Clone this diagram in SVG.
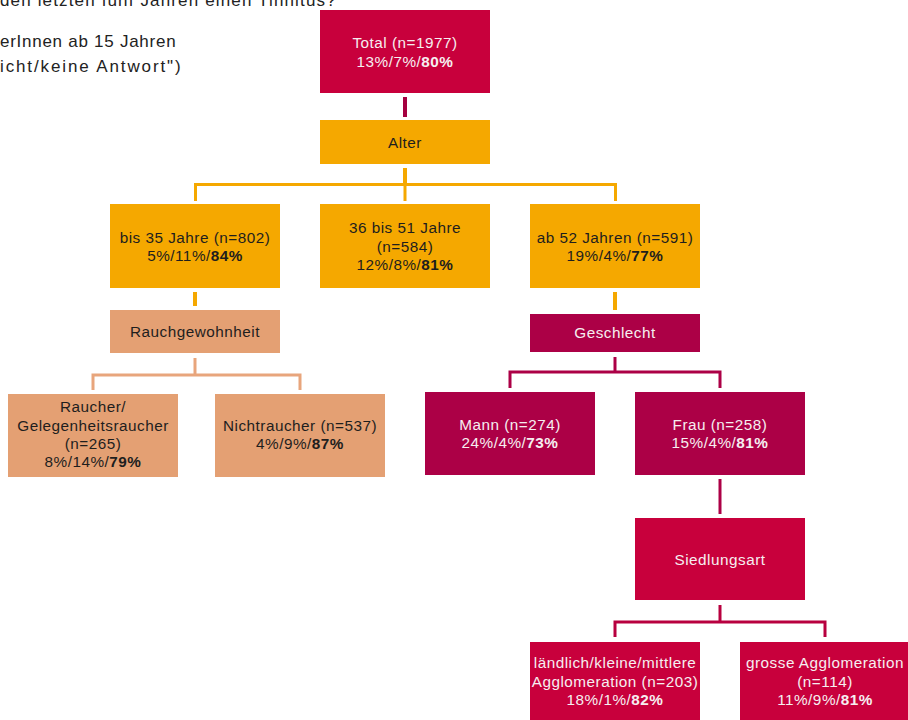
<svg xmlns="http://www.w3.org/2000/svg" width="908" height="720" viewBox="0 0 908 720">
<style>
text{font-family:"Liberation Sans",Arial,sans-serif;font-size:15.3px;letter-spacing:0.5px;text-anchor:middle}
.hdr{font-size:17px;text-anchor:start;fill:#222;letter-spacing:0.4px}
.dk{fill:#1e1e1e}
.lt{fill:#f6eef0}
.b{font-weight:bold}
.crim{fill:#C8003C}
.mag{fill:#AC0046}
.org{fill:#F5A800}
.sal{fill:#E4A073}
.c-org{stroke:#F5A800;stroke-width:3;fill:none}
.c-sal{stroke:#E8A57C;stroke-width:3;fill:none}
.c-mag{stroke:#AC0046;stroke-width:3;fill:none}
.c-crim{stroke:#B8003F;stroke-width:3;fill:none}
</style>
<rect width="908" height="720" fill="#ffffff"/>
<g id="header">
<text class="hdr" x="0" y="6" textLength="336" lengthAdjust="spacing">den letzten fünf Jahren einen Tinnitus?</text>
<text class="hdr" x="0" y="47" textLength="176" lengthAdjust="spacing">erInnen ab 15 Jahren</text>
<text class="hdr" x="0" y="72" textLength="181" lengthAdjust="spacing">icht/keine Antwort")</text>
</g>
<g id="connectors">
<line x1="405" y1="97" x2="405" y2="117" stroke="#A50040" stroke-width="4"/>
<line x1="405" y1="168" x2="405" y2="185" stroke="#F5A800" stroke-width="4"/>
<path class="c-org" d="M195.5 201V184.5H615.5V201M405 184.5V201"/>
<line x1="195" y1="292" x2="195" y2="306" stroke="#F5A800" stroke-width="4"/>
<line x1="615" y1="292" x2="615" y2="310" stroke="#F5A800" stroke-width="4"/>
<line x1="195" y1="358" x2="195" y2="376" class="c-sal" stroke-width="4"/>
<path class="c-sal" d="M93 390V375H300V390"/>
<line x1="615" y1="357" x2="615" y2="373" class="c-mag" stroke-width="4"/>
<path class="c-mag" d="M510 388V372H720V388"/>
<line x1="720" y1="479" x2="720" y2="514" class="c-mag" stroke-width="4"/>
<line x1="720" y1="605" x2="720" y2="623" class="c-crim" stroke-width="4"/>
<path class="c-crim" d="M615 637V622H825V637"/>
</g>
<g id="total">
<rect class="crim" x="320" y="10" width="170" height="83"/>
<text class="lt" x="405" y="48">Total (n=1977)</text>
<text class="lt" x="405" y="67">13%/7%/<tspan class="b">80%</tspan></text>
</g>
<g id="alter">
<rect class="org" x="320" y="120" width="170" height="44"/>
<text class="dk" x="405" y="148">Alter</text>
</g>
<g id="bis35">
<rect class="org" x="110" y="204" width="170" height="84"/>
<text class="dk" x="195" y="243">bis 35 Jahre (n=802)</text>
<text class="dk" x="195" y="261">5%/11%/<tspan class="b">84%</tspan></text>
</g>
<g id="36bis51">
<rect class="org" x="320" y="204" width="170" height="84"/>
<text class="dk" x="405" y="233">36 bis 51 Jahre</text>
<text class="dk" x="405" y="252">(n=584)</text>
<text class="dk" x="405" y="270">12%/8%/<tspan class="b">81%</tspan></text>
</g>
<g id="ab52">
<rect class="org" x="530" y="204" width="170" height="84"/>
<text class="dk" x="615" y="243">ab 52 Jahren (n=591)</text>
<text class="dk" x="615" y="261">19%/4%/<tspan class="b">77%</tspan></text>
</g>
<g id="rauch">
<rect class="sal" x="110" y="310" width="170" height="43"/>
<text class="dk" x="195" y="337">Rauchgewohnheit</text>
</g>
<g id="raucher">
<rect class="sal" x="8" y="394" width="170" height="83"/>
<text class="dk" x="93" y="412">Raucher/</text>
<text class="dk" x="93" y="431">Gelegenheitsraucher</text>
<text class="dk" x="93" y="449">(n=265)</text>
<text class="dk" x="93" y="467">8%/14%/<tspan class="b">79%</tspan></text>
</g>
<g id="nichtraucher">
<rect class="sal" x="215" y="394" width="170" height="83"/>
<text class="dk" x="300" y="431">Nichtraucher (n=537)</text>
<text class="dk" x="300" y="449">4%/9%/<tspan class="b">87%</tspan></text>
</g>
<g id="geschlecht">
<rect class="mag" x="530" y="314" width="170" height="38"/>
<text class="lt" x="615" y="338">Geschlecht</text>
</g>
<g id="mann">
<rect class="mag" x="425" y="392" width="170" height="83"/>
<text class="lt" x="510" y="430">Mann (n=274)</text>
<text class="lt" x="510" y="448">24%/4%/<tspan class="b">73%</tspan></text>
</g>
<g id="frau">
<rect class="mag" x="635" y="392" width="170" height="83"/>
<text class="lt" x="720" y="430">Frau (n=258)</text>
<text class="lt" x="720" y="448">15%/4%/<tspan class="b">81%</tspan></text>
</g>
<g id="siedlungsart">
<rect class="crim" x="635" y="518" width="170" height="82"/>
<text class="lt" x="720" y="565">Siedlungsart</text>
</g>
<g id="laendlich">
<rect class="crim" x="530" y="642" width="170" height="90"/>
<text class="lt" x="615" y="668">ländlich/kleine/mittlere</text>
<text class="lt" x="615" y="687">Agglomeration (n=203)</text>
<text class="lt" x="615" y="705">18%/1%/<tspan class="b">82%</tspan></text>
</g>
<g id="grosse">
<rect class="crim" x="740" y="642" width="170" height="90"/>
<text class="lt" x="825" y="668">grosse Agglomeration</text>
<text class="lt" x="825" y="687">(n=114)</text>
<text class="lt" x="825" y="705">11%/9%/<tspan class="b">81%</tspan></text>
</g>
</svg>
